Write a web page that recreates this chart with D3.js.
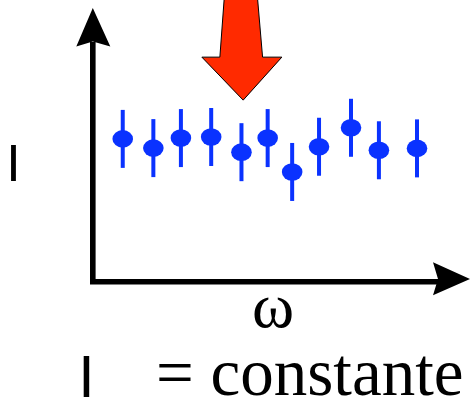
<!DOCTYPE html>
<html>
<head>
<meta charset="utf-8">
<script src="https://cdn.jsdelivr.net/npm/d3@7"></script>
<style>
  html, body { margin: 0; padding: 0; background: #fff; }
  svg { display: block; }
</style>
</head>
<body>
<script>
// Measured intensity at each frequency (arbitrary units)
const omegaValues = [0.88, 1.78, 2.59, 3.48, 4.37, 5.14, 5.86, 6.65, 7.59, 8.41, 9.53];
const intensityValues = [5.17, 4.83, 5.20, 5.24, 4.68, 5.20, 3.95, 4.88, 5.58, 4.75, 4.82];
const errorValues = [1.07, 1.07, 1.07, 1.07, 1.07, 1.07, 1.07, 1.07, 1.07, 1.07, 1.07];

// Labels
const xLabel = "ω";
const yLabel = "I";
const captionSymbol = "I";
const captionText = "= constante";

// Point highlighted by the red arrow (frequency, height of arrow tip)
const highlight = { omega: 4.42, level: 6.6 };

const W = 471, H = 409;
const blue = "#0a32ff";
const red = "#ff2a00";

const svg = d3.select("body").append("svg")
  .attr("width", W).attr("height", H);

const x = d3.scaleLinear().domain([0, 10]).range([92.8, 433]);
const y = d3.scaleLinear().domain([0, 10]).range([279, 8]);

const data = omegaValues.map((w, i) => ({ w, v: intensityValues[i], e: errorValues[i] }));

// Axes: thick black lines with solid arrowheads
const x0 = x.range()[0], y0 = y.range()[0];
const axes = svg.append("g");
axes.append("path")
  .attr("d", `M${x0},${y.range()[1] + 34} L${x0},${y0 + 2.8} L${x.range()[1] + 5},${y0 + 2.8}`)
  .attr("fill", "none").attr("stroke", "#000").attr("stroke-width", 5.6)
  .attr("stroke-linejoin", "miter");
// vertical arrowhead
const yt = y.range()[1];
axes.append("path")
  .attr("d", `M${x0},${yt} L${x0 + 17.5},${yt + 38.5} L${x0},${yt + 33.5} L${x0 - 16.5},${yt + 38.5} Z`)
  .attr("fill", "#000");
// horizontal arrowhead
const xr = x.range()[1];
axes.append("path")
  .attr("d", `M${xr + 37},${y0} L${xr},${y0 - 16.7} L${xr + 5},${y0} L${xr},${y0 + 16.3} Z`)
  .attr("fill", "#000");

// Error bars and points
const pts = svg.append("g");
pts.selectAll("line.err").data(data).join("line")
  .attr("class", "err")
  .attr("x1", d => x(d.w)).attr("x2", d => x(d.w))
  .attr("y1", d => y(d.v + d.e)).attr("y2", d => y(d.v - d.e))
  .attr("stroke", blue).attr("stroke-width", 4);
pts.selectAll("ellipse").data(data).join("ellipse")
  .attr("cx", d => x(d.w)).attr("cy", d => y(d.v))
  .attr("rx", 10.3).attr("ry", 8.8)
  .attr("fill", blue);

// Red arrow pointing down at the highlighted point
const tx = x(highlight.omega), ty = y(highlight.level);
svg.append("path")
  .attr("d", [
    [tx, ty], [tx + 38.7, ty - 43], [tx + 19.4, ty - 43], [tx + 13.5, ty - 112],
    [tx - 18.2, ty - 112], [tx - 23.3, ty - 43], [tx - 41.3, ty - 43]
  ].map((p, i) => (i ? "L" : "M") + p[0] + "," + p[1]).join("") + "Z")
  .attr("fill", red).attr("stroke", "#000").attr("stroke-width", 1)
  .attr("stroke-linejoin", "miter");

// Axis labels
svg.append("text")
  .attr("x", 13.6).attr("y", 181)
  .attr("text-anchor", "middle")
  .attr("fill", "#000")
  .attr("font-family", "Liberation Sans Narrow, Liberation Sans, Arial, sans-serif")
  .attr("font-size", 52)
  .text(yLabel);

svg.append("text")
  .attr("x", 273).attr("y", 327)
  .attr("text-anchor", "middle")
  .attr("fill", "#000")
  .attr("font-family", "Liberation Serif, Times New Roman, serif")
  .attr("font-size", 64)
  .text(xLabel);

// Caption
svg.append("text")
  .attr("x", 86.5).attr("y", 397)
  .attr("text-anchor", "middle")
  .attr("fill", "#000")
  .attr("font-family", "Liberation Sans Narrow, Liberation Sans, Arial, sans-serif")
  .attr("font-size", 59)
  .text(captionSymbol);

svg.append("text")
  .attr("x", 156).attr("y", 394.5)
  .attr("fill", "#000")
  .attr("font-family", "Liberation Serif, Times New Roman, serif")
  .attr("font-size", 67)
  .text(captionText);
</script>
</body>
</html>
